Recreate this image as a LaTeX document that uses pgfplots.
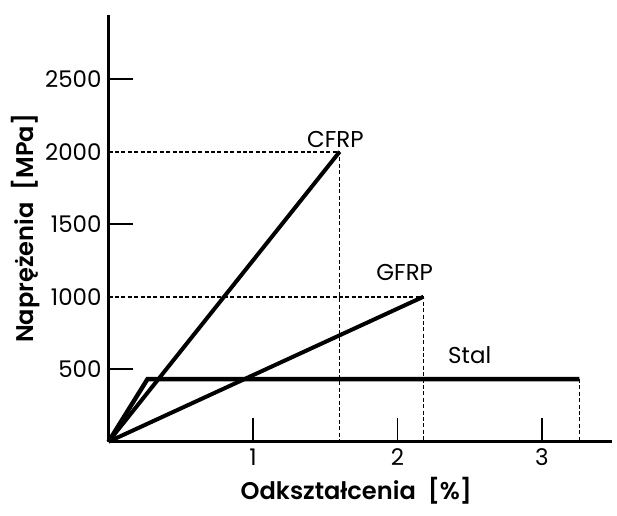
\documentclass[border=0pt]{standalone}
\usepackage{fontspec}
\setmainfont{Poppins}
\newfontfamily\labelfont{Poppins SemiBold}
\usepackage{pgfplots}
\pgfplotsset{compat=1.18}
\begin{document}
\begin{tikzpicture}
% frame of the page, in bp; the axis origin is at (0,0)
\path[use as bounding box] (-54.25bp,-37.15bp) rectangle (254.25bp,220.85bp);
\begin{axis}[
  at={(0,0)}, anchor=origin,
  scale only axis,
  width=251.75bp, height=213.35bp,
  xmin=0, xmax=3.485, ymin=0, ymax=2943,
  axis x line=bottom, axis y line=left,
  axis line style={-, line width=1.5bp},
  xtick={1,2,3},
  ytick={500,1500,2500},
  extra y ticks={1000,2000},
  extra y tick style={major tick length=0pt},
  tick align=inside,
  major tick length=12bp,
  tick style={black, line width=0.8bp},
  /pgf/number format/assume math mode=true,
  /pgf/number format/1000 sep={},
  ticklabel style={font=\fontsize{11.5}{13}\selectfont},
  xlabel={Odkształcenia\hspace{0.5em}[\%]},
  ylabel={Naprężenia\hspace{0.5em}[MPa]},
  label style={font=\labelfont\fontsize{12.1}{14}\selectfont},
  xlabel style={yshift=1bp, xshift=-2bp},
  ylabel style={yshift=-4bp},
  clip=false,
]
% dotted guide lines
\addplot[black, line width=0.8bp, dash pattern=on 2bp off 1.2bp] coordinates {(0,2000) (1.6,2000) (1.6,0)};
\addplot[black, line width=0.8bp, dash pattern=on 2bp off 1.2bp] coordinates {(0,1000) (2.18,1000) (2.18,0)};
\addplot[black, line width=0.8bp, dash pattern=on 2bp off 1.2bp] coordinates {(3.26,432) (3.26,0)};
% stress-strain curves
\addplot[black, line width=2bp] coordinates {(0,0) (1.6,2000)};
\addplot[black, line width=2bp] coordinates {(0,0) (2.18,1000)};
\addplot[black, line width=2.2bp] coordinates {(0,0) (0.27,432) (3.26,432)};
\node[font=\fontsize{11.5}{13}\selectfont] at (axis cs:1.57,2081) {CFRP};
\node[font=\fontsize{11.5}{13}\selectfont] at (axis cs:2.05,1170) {GFRP};
\node[font=\fontsize{11.5}{13}\selectfont] at (axis cs:2.50,598) {Stal};
\end{axis}
\end{tikzpicture}
\end{document}
